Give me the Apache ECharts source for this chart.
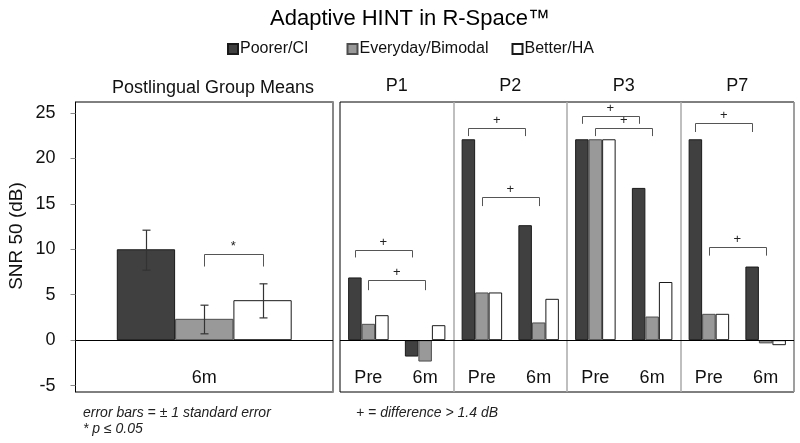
<!DOCTYPE html>
<html><head><meta charset="utf-8">
<script src="https://cdn.jsdelivr.net/npm/echarts@6/dist/echarts.min.js"></script>
<style>html,body{margin:0;padding:0;background:#fff}#c{width:800px;height:443px}</style>
</head><body><div id="c"></div>
<script>
// ---------------- data ----------------
const seriesNames = ['Poorer/CI', 'Everyday/Bimodal', 'Better/HA'];
const groupCategories = ['6m'];
const groupMeans = [10.0, 2.35, 4.4];
const groupErrLow = [7.7, 0.7, 2.45];
const groupErrHigh = [12.1, 3.85, 6.2];
const participants = ['P1', 'P2', 'P3', 'P7'];
const sessionCategories = ['Pre', '6m', 'Pre', '6m', 'Pre', '6m', 'Pre', '6m'];
const poorerCI = [6.9, -1.8, 22.1, 12.65, 22.1, 16.75, 22.1, 8.1];
const everydayBimodal = [1.8, -2.35, 5.25, 1.95, 22.1, 2.6, 2.9, -0.35];
const betterHA = [2.75, 1.65, 5.25, 4.55, 22.1, 6.4, 2.9, -0.55];
const yTicks = [-5, 0, 5, 10, 15, 20, 25];
// brackets: [startCategory, startSeries, endCategory, endSeries, topValue, legEndValue]
const groupBrackets = [[0, 1, 0, 2, 9.45, 8.1]];
const groupBracketMarks = ['*'];
const participantBrackets = [
  [0, 0, 1, 0, 9.97, 9.1], [0, 1, 1, 1, 6.67, 5.5],
  [2, 0, 3, 0, 23.35, 22.45], [2, 1, 3, 1, 15.77, 14.75],
  [4, 0, 5, 0, 24.68, 23.8], [4, 1, 5, 1, 23.36, 22.45],
  [6, 0, 7, 0, 23.9, 22.9], [6, 1, 7, 1, 10.2, 9.3]
];
const participantBracketMarks = ['+', '+', '+', '+', '+', '+', '+', '+'];
const participantValues = [poorerCI, everydayBimodal, betterHA];

// ---------------- style ----------------
const FONT = 'Liberation Sans, Arial, sans-serif';
const Y_MIN = -5.7, Y_MAX = 26.2;
const GROUP_BW = 58.3, PART_BW = 13.5;
const styles = [
  { color: '#404040', borderColor: '#1a1a1a', borderWidth: 1 },
  { color: '#999999', borderColor: '#4d4d4d', borderWidth: 1 },
  { color: '#ffffff', borderColor: '#1a1a1a', borderWidth: 1 }
];

function bracketRender(list, marks, bw) {
  return function (params, api) {
    const b = list[params.dataIndex];
    const x1 = api.coord([b[0], b[4]])[0] + (b[1] - 1) * bw;
    const x2 = api.coord([b[2], b[4]])[0] + (b[3] - 1) * bw;
    const yT = Math.round(api.coord([b[0], b[4]])[1]) + 0.5;
    const yL = api.coord([b[0], b[5]])[1];
    const rx1 = Math.round(x1) + 0.5, rx2 = Math.round(x2) + 0.5;
    return {
      type: 'group', children: [
        { type: 'polyline', shape: { points: [[rx1, yL], [rx1, yT], [rx2, yT], [rx2, yL]] },
          style: { stroke: '#555', lineWidth: 1, fill: null } },
        { type: 'text', x: (x1 + x2) / 2, y: yT - 2,
          style: { text: marks[params.dataIndex], align: 'center', verticalAlign: 'bottom',
            textAlign: 'center', textVerticalAlign: 'bottom',
            fontSize: 13, fontFamily: FONT, fill: '#222' } }
      ]
    };
  };
}

const series = [];
seriesNames.forEach((name, k) => {
  const s = {
    name, type: 'bar', xAxisIndex: 0, yAxisIndex: 0, data: [groupMeans[k]],
    barWidth: GROUP_BW, barGap: '0%', itemStyle: styles[k], z: 2
  };
  if (k === 0) s.markLine = { silent: true, symbol: 'none', label: { show: false },
    lineStyle: { color: '#000', width: 1, type: 'solid' }, data: [{ yAxis: 0 }] };
  series.push(s);
});
seriesNames.forEach((name, k) => {
  const s = {
    name, type: 'bar', xAxisIndex: 1, yAxisIndex: 2, data: participantValues[k],
    barWidth: PART_BW, barGap: '0%', itemStyle: styles[k], z: 2
  };
  if (k === 0) s.markLine = { silent: true, symbol: 'none', label: { show: false },
    lineStyle: { color: '#000', width: 1, type: 'solid' }, data: [{ yAxis: 0 }] };
  series.push(s);
});
// error bars
series.push({
  type: 'custom', xAxisIndex: 0, yAxisIndex: 0, z: 5,
  data: groupMeans.map((m, k) => [0, groupErrLow[k], groupErrHigh[k]]),
  encode: { x: 0, y: [1, 2] },
  renderItem: function (params, api) {
    const k = params.dataIndex;
    const x = Math.round(api.coord([0, 0])[0] + (k - 1) * GROUP_BW) + 0.5;
    const yH = api.coord([0, groupErrHigh[k]])[1];
    const yLo = api.coord([0, groupErrLow[k]])[1];
    const st = { stroke: '#333', lineWidth: 1.2 };
    return { type: 'group', children: [
      { type: 'line', shape: { x1: x, y1: yH, x2: x, y2: yLo }, style: st },
      { type: 'line', shape: { x1: x - 4, y1: yH, x2: x + 4, y2: yH }, style: st },
      { type: 'line', shape: { x1: x - 4, y1: yLo, x2: x + 4, y2: yLo }, style: st }
    ] };
  }
});
series.push({
  type: 'custom', xAxisIndex: 0, yAxisIndex: 0, z: 5,
  data: groupBrackets.map(b => [b[0], b[4], b[2], b[5]]), encode: { x: [0, 2], y: [1, 3] },
  renderItem: bracketRender(groupBrackets, groupBracketMarks, GROUP_BW)
});
series.push({
  type: 'custom', xAxisIndex: 1, yAxisIndex: 2, z: 5,
  data: participantBrackets.map(b => [b[0], b[4], b[2], b[5]]), encode: { x: [0, 2], y: [1, 3] },
  renderItem: bracketRender(participantBrackets, participantBracketMarks, PART_BW)
});

const legendBase = (name, left) => ({
  data: [name], left, top: 41, itemWidth: 10, itemHeight: 10, itemGap: 0, padding: 0,
  icon: 'rect', selectedMode: false,
  textStyle: { fontSize: 16, fontFamily: FONT, color: '#111', padding: [0, 0, 0, -3] }
});

const option = {
  animation: false,
  backgroundColor: '#fff',
  textStyle: { fontFamily: FONT },
  legend: [legendBase(seriesNames[0], 227), legendBase(seriesNames[1], 346.5), legendBase(seriesNames[2], 511.5)],
  grid: [
    { left: 75.5, top: 102, width: 257.5, height: 290, show: true, borderColor: '#000', borderWidth: 1, backgroundColor: 'transparent' },
    { left: 340, top: 102, width: 454, height: 290, show: true, borderColor: '#000', borderWidth: 1, backgroundColor: 'transparent' }
  ],
  xAxis: [
    { type: 'category', gridIndex: 0, data: groupCategories, position: 'bottom',
      axisLine: { show: false }, axisTick: { show: false }, splitLine: { show: false },
      axisLabel: { inside: true, margin: 5, fontSize: 18, color: '#111', fontFamily: FONT } },
    { type: 'category', gridIndex: 1, data: sessionCategories, position: 'bottom',
      axisLine: { show: false }, axisTick: { show: false },
      splitLine: { show: true, interval: (i) => i > 0 && i % 2 === 0, lineStyle: { color: '#aaa', width: 1.5 } },
      axisLabel: { inside: true, margin: 5, fontSize: 18, color: '#111', fontFamily: FONT } },
    { type: 'category', gridIndex: 1, data: participants, position: 'top',
      axisLine: { show: false }, axisTick: { show: false }, splitLine: { show: false },
      axisLabel: { margin: 7, fontSize: 18, color: '#111', fontFamily: FONT } }
  ],
  yAxis: [
    { type: 'value', gridIndex: 0, min: Y_MIN, max: Y_MAX, position: 'left',
      axisLine: { show: true, lineStyle: { color: '#000', width: 1 } },
      axisTick: { show: true, customValues: yTicks, length: 5, lineStyle: { color: '#888' } },
      axisLabel: { customValues: yTicks, margin: 20, fontSize: 18, color: '#111', fontFamily: FONT },
      splitLine: { show: false } },
    { type: 'value', gridIndex: 0, min: Y_MIN, max: Y_MAX, position: 'right',
      axisLine: { show: true, lineStyle: { color: '#888', width: 2 } },
      axisTick: { show: false }, axisLabel: { show: false }, splitLine: { show: false } },
    { type: 'value', gridIndex: 1, min: Y_MIN, max: Y_MAX,
      axisLine: { show: false }, axisTick: { show: false }, axisLabel: { show: false }, splitLine: { show: false } }
  ],
  graphic: [
    { type: 'text', x: 410, y: 19, style: { text: 'Adaptive HINT in R-Space™', fontSize: 22, fontFamily: FONT, fill: '#000',
      align: 'center', verticalAlign: 'middle', textAlign: 'center', textVerticalAlign: 'middle' } },
    { type: 'text', x: 213, y: 88, style: { text: 'Postlingual Group Means', fontSize: 18, fontFamily: FONT, fill: '#111',
      align: 'center', verticalAlign: 'middle', textAlign: 'center', textVerticalAlign: 'middle' } },
    { type: 'text', x: 17, y: 236, rotation: Math.PI / 2, style: { text: 'SNR 50 (dB)', fontSize: 19, fontFamily: FONT, fill: '#111',
      align: 'center', verticalAlign: 'middle', textAlign: 'center', textVerticalAlign: 'middle' } },
    { type: 'text', x: 83, y: 413, style: { text: 'error bars = ± 1 standard error', fontSize: 14, fontStyle: 'italic', fontFamily: FONT, fill: '#222',
      align: 'left', verticalAlign: 'middle', textAlign: 'left', textVerticalAlign: 'middle' } },
    { type: 'text', x: 83, y: 429, style: { text: '* p ≤ 0.05', fontSize: 14, fontStyle: 'italic', fontFamily: FONT, fill: '#222',
      align: 'left', verticalAlign: 'middle', textAlign: 'left', textVerticalAlign: 'middle' } },
    { type: 'text', x: 356, y: 413, style: { text: '+ = difference > 1.4 dB', fontSize: 14, fontStyle: 'italic', fontFamily: FONT, fill: '#222',
      align: 'left', verticalAlign: 'middle', textAlign: 'left', textVerticalAlign: 'middle' } }
  ],
  series
};
const chart = echarts.init(document.getElementById('c'), null, { renderer: 'canvas' });
chart.setOption(option);
</script>
</body></html>
